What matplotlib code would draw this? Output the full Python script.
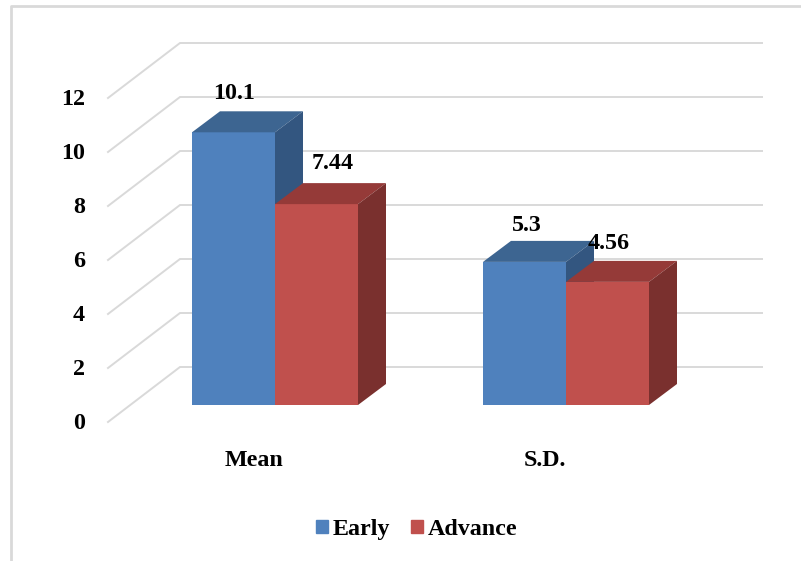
import matplotlib
matplotlib.use("Agg")
import matplotlib.pyplot as plt
from matplotlib.lines import Line2D
from matplotlib.patches import Patch
from matplotlib.transforms import Affine2D

categories = ["Mean", "S.D."]
series_names = ["Early", "Advance"]
early = [10.1, 5.3]
advance = [7.44, 4.56]
early_labels = ["10.1", "5.3"]
advance_labels = ["7.44", "4.56"]
ticks = [0, 2, 4, 6, 8, 10, 12]

W, H = 801, 561
# scale of the picture: one category step and one value unit in pixels
PX_CAT = 291.0
PX_VAL = 27.0
BAR_W = 83 / PX_CAT
BASE_X, BASE_Y = 275, 405

plt.rcParams["font.family"] = ["Liberation Serif", "DejaVu Serif"]
plt.rcParams["font.weight"] = "bold"
plt.rcParams["font.size"] = 17.3

fig = plt.figure(figsize=(W / 100, H / 100), dpi=100)
ax = fig.add_axes([0, 0, 1, 1])
ax.set_xlim(-BASE_X / PX_CAT, (W - BASE_X) / PX_CAT)
ax.set_ylim(-(H - BASE_Y) / PX_VAL, BASE_Y / PX_VAL)
ax.axis("off")

# pixel coordinates with y going down, only for the layout bits
pix = Affine2D().scale(1, -1).translate(0, H)

GRID = "#d9d9d9"
fig.add_artist(Line2D([11, 11, 801], [561, 6, 6], transform=pix, color=GRID, lw=2))

# wall and floor offsets from the bar front plane, in data units
wall_dx, wall_dy = 50 / PX_CAT, 38 / PX_VAL
front_dx, front_dy = -22 / PX_CAT, -17 / PX_VAL
right_end = (762 - BASE_X) / PX_CAT
for t in ticks:
    x0 = (130 - BASE_X) / PX_CAT
    ax.plot([x0 + front_dx, x0 + wall_dx, right_end],
            [t + front_dy, t + wall_dy, t + wall_dy],
            color=GRID, lw=1.4, zorder=1, solid_joinstyle="miter")
    ax.text(85 / PX_CAT + x0 - 130 / PX_CAT, t + front_dy + 1 / PX_VAL, str(t),
            ha="right", va="center_baseline")

depth_x, depth_y = 28 / PX_CAT, 21 / PX_VAL


def draw_bar(left, val, face, top, side, z):
    right = left + BAR_W
    ax.bar(left, val, width=BAR_W, align="edge", color=face, zorder=z)
    ax.fill([left, left + depth_x, right + depth_x, right],
            [val, val + depth_y, val + depth_y, val], color=top, lw=0, zorder=z)
    ax.fill([right, right + depth_x, right + depth_x, right],
            [0, depth_y, val + depth_y, val], color=side, lw=0, zorder=z)


# label offsets from the bar's top centre, in points
early_off = [(0.5, 28), (2, 26.5)]
advance_off = [(12, 29.5), (1, 27.5)]

for i, cat in enumerate(categories):
    draw_bar(i - BAR_W, early[i], "#4f81bd", "#3d6591", "#335680", 2 + i * 2)
    draw_bar(i, advance[i], "#c0504d", "#953a38", "#7a302e", 3 + i * 2)
    ax.annotate(early_labels[i], (i - BAR_W / 2, early[i]), xytext=early_off[i],
                textcoords="offset points", ha="center", va="center", zorder=10)
    ax.annotate(advance_labels[i], (i + BAR_W / 2, advance[i]), xytext=advance_off[i],
                textcoords="offset points", ha="center", va="center", zorder=10)
    ax.text(i - 21 / PX_CAT, -55 / PX_VAL, cat, ha="center", va="center")

handles = [Patch(color="#4f81bd", label=series_names[0]),
           Patch(color="#c0504d", label=series_names[1])]
fig.legend(handles=handles, loc="center", bbox_to_anchor=(416.5, 529.5),
           bbox_transform=pix, ncol=2, frameon=False, handlelength=0.5,
           handleheight=0.41, handletextpad=0.2, columnspacing=0.85,
           borderpad=0, borderaxespad=0)

fig.savefig("out.png", dpi=100)
